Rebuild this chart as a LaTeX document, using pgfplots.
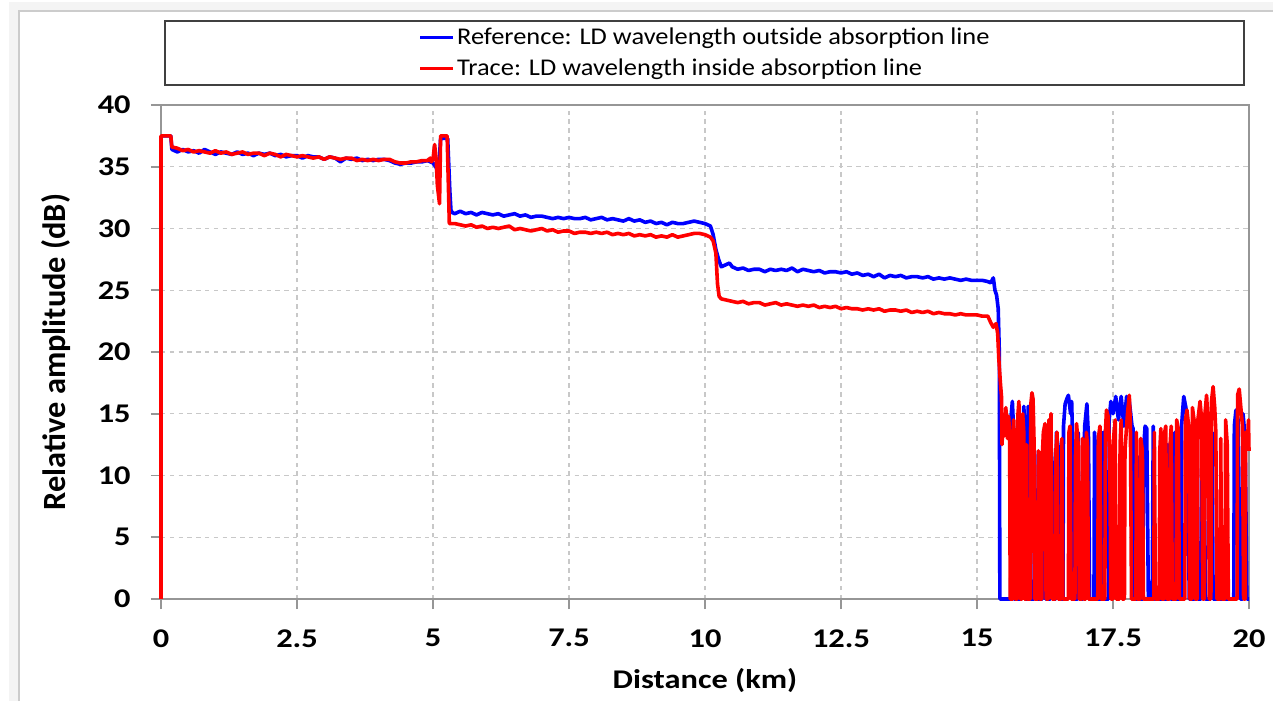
\documentclass[border=0pt]{standalone}
\usepackage{fontspec}
\setmainfont{Carlito}[FakeStretch=1.2]
\newfontfamily\legfont{Carlito}[FakeStretch=1.1]
\newfontfamily\ylabfont{Carlito}
\usepackage{pgfplots}
\pgfplotsset{compat=1.18}
\definecolor{bgband}{RGB}{244,244,244}
\definecolor{bgline}{RGB}{204,204,204}
\definecolor{gridc}{RGB}{200,200,200}
\definecolor{axc}{RGB}{150,150,150}
\definecolor{lblue}{RGB}{0,0,255}
\definecolor{lred}{RGB}{255,0,0}
\begin{document}
\begin{tikzpicture}
\path[use as bounding box] (0,0) rectangle (636.5pt,350.5pt);
\fill[bgband] (4.5pt,0) rectangle (636.5pt,349.5pt);
\fill[white] (9.5pt,0) rectangle (636.5pt,345pt);
\draw[bgline, line width=0.9pt] (9.5pt,0) -- (9.5pt,345pt) -- (636.5pt,345pt);
\begin{axis}[
  at={(80.5pt,51pt)}, anchor=south west,
  scale only axis, width=544pt, height=247pt,
  xmin=0, xmax=20, ymin=0, ymax=40,
  xtick={0,2.5,5,7.5,10,12.5,15,17.5,20},
  xticklabels={0,2.5,5,7.5,10,12.5,15,17.5,20},
  ytick={0,5,10,15,20,25,30,35,40},
  /pgf/number format/assume math mode=true,
  tick align=outside, major tick length=5pt,
  xtick pos=bottom, ytick pos=left,
  tick style={axc, line width=0.8pt},
  axis line style={axc, line width=0.9pt},
  grid=major,
  major grid style={gridc, line width=0.6pt, dash pattern=on 2.2pt off 2.2pt},
  ticklabel style={font=\bfseries\fontsize{13.5}{16}\selectfont, inner sep=0pt},
  xticklabel shift=10pt, yticklabel shift=10pt,
  xlabel={Distance (km)},
  ylabel={\ylabfont Relative amplitude (dB)},
  xlabel style={font=\bfseries\fontsize{13.5}{16}\selectfont, at={(axis description cs:0.5,-0.166)}, anchor=center},
  ylabel style={font=\bfseries\fontsize{16.2}{19}\selectfont, at={(axis description cs:-0.0965,0.5)}, anchor=center},
  clip=false,
  legend style={at={(axis description cs:0.5,1.105)}, anchor=center, draw=none, fill=none,
    font=\legfont\fontsize{12}{14}\selectfont, row sep=3.6pt, inner sep=0pt, nodes={inner sep=1pt}},
  legend cell align=left,
  legend image code/.code={\draw[#1, line width=1.8pt] (0pt,0pt) -- (16.5pt,0pt);},
]
\addplot[lblue, line width=1.8pt, line join=round] coordinates {
(0,37.5)(0.18,37.5)(0.2,36.4)(0.3,36.2)(0.4,36.4)(0.5,36.2)(0.6,36.3)(0.7,36.1)(0.8,36.4)(0.9,36.2)
(1.0,36.0)(1.1,36.2)(1.2,36.1)(1.3,36.0)(1.4,36.2)(1.5,36.0)(1.6,36.1)(1.7,35.9)(1.8,36.1)(1.9,36.0)
(2.0,36.1)(2.1,35.9)(2.2,36.0)(2.3,35.8)(2.4,35.9)(2.5,35.9)(2.6,35.7)(2.7,35.9)(2.8,35.8)(2.9,35.8)
(3.0,35.6)(3.1,35.8)(3.2,35.7)(3.3,35.4)(3.4,35.7)(3.5,35.6)(3.6,35.7)(3.7,35.5)(3.8,35.6)(3.9,35.5)
(4.0,35.6)(4.1,35.6)(4.2,35.5)(4.3,35.3)(4.4,35.2)(4.5,35.3)(4.6,35.3)(4.7,35.4)(4.8,35.4)(4.9,35.5)
(5.0,35.3)(5.05,35.0)(5.1,34.5)(5.14,37.3)(5.27,37.3)(5.31,33.0)(5.33,31.5)(5.35,31.3)
(5.4,31.2)(5.5,31.4)(5.6,31.2)(5.7,31.3)(5.8,31.1)(5.9,31.3)(6.0,31.2)(6.1,31.1)(6.2,31.2)(6.3,31.0)
(6.4,31.1)(6.5,31.2)(6.6,31.0)(6.7,31.1)(6.8,30.9)(6.9,31.0)(7.0,31.0)(7.1,30.9)(7.2,30.8)(7.3,30.9)
(7.4,30.8)(7.5,30.9)(7.6,30.8)(7.7,30.8)(7.8,30.9)(7.9,30.7)(8.0,30.8)(8.1,30.9)(8.2,30.7)(8.3,30.8)
(8.4,30.7)(8.5,30.6)(8.6,30.8)(8.7,30.6)(8.8,30.7)(8.9,30.5)(9.0,30.6)(9.1,30.4)(9.2,30.5)(9.3,30.3)
(9.4,30.5)(9.5,30.4)(9.6,30.4)(9.7,30.5)(9.8,30.6)(9.9,30.5)(10.0,30.4)(10.1,30.2)(10.15,29.5)(10.2,28.3)
(10.25,27.5)(10.3,26.9)(10.35,27.0)(10.4,27.1)(10.45,27.2)(10.5,26.9)(10.6,26.7)(10.7,26.8)(10.8,26.6)(10.9,26.7)
(11.0,26.7)(11.1,26.5)(11.2,26.7)(11.3,26.6)(11.4,26.7)(11.5,26.6)(11.6,26.8)(11.7,26.5)(11.8,26.7)(11.9,26.6)
(12.0,26.5)(12.1,26.6)(12.2,26.4)(12.3,26.5)(12.4,26.5)(12.5,26.4)(12.6,26.5)(12.7,26.3)(12.8,26.4)(12.9,26.2)
(13.0,26.3)(13.1,26.1)(13.2,26.3)(13.3,26.0)(13.4,26.2)(13.5,26.1)(13.6,26.2)(13.7,26.0)(13.8,26.1)(13.9,26.1)
(14.0,26.0)(14.1,26.1)(14.2,25.9)(14.3,26.0)(14.4,25.9)(14.5,26.0)(14.6,25.9)(14.7,25.8)(14.8,25.9)(14.9,25.8)
(15.0,25.8)(15.1,25.8)(15.2,25.7)(15.25,25.6)(15.3,26.0)(15.33,25.0)(15.36,24.6)(15.39,23.5)(15.41,20)(15.42,0)
(15.62,0)(15.63,15.0)(15.65,16.0)(15.67,14)(15.68,0)(15.72,0)(15.73,13)(15.74,0)(15.80,0)(15.81,14.5)
(15.84,12.5)(15.86,15.6)(15.88,13.8)(15.90,0)(15.93,0)(15.94,15.6)(15.96,14.0)(15.98,0)(16.05,0)(16.06,12.0)
(16.08,0)(16.20,0)(16.21,11.0)(16.24,13.0)(16.26,0)(16.35,0)(16.36,12.5)(16.38,11.0)(16.40,0)(16.45,0)
(16.46,13.5)(16.50,12.0)(16.52,0)(16.58,0)(16.59,14.0)(16.62,15.8)(16.65,16.2)(16.68,16.5)(16.72,15.0)(16.74,16.0)
(16.76,12.5)(16.78,0)(16.85,0)(16.86,13.5)(16.88,0)(16.95,0)(16.96,11.0)(16.98,14.0)(17.02,15.8)(17.05,13.0)
(17.07,0)(17.15,0)(17.16,13.5)(17.18,12)(17.20,0)(17.28,0)(17.29,13.2)(17.32,13.5)(17.34,0)(17.42,0)
(17.43,14.5)(17.46,16.0)(17.50,15.0)(17.55,16.4)(17.60,14.5)(17.65,16.4)(17.70,14.0)(17.75,16.4)(17.80,16.0)(17.85,14.0)
(17.87,13.8)(17.88,0)(17.95,0)(17.96,11.5)(17.98,0)(18.05,0)(18.06,12.0)(18.09,14.0)(18.12,13.8)(18.15,0)
(18.22,0)(18.24,14.0)(18.26,0)(18.50,0)(18.51,12.5)(18.54,11.8)(18.56,0)(18.63,0)(18.64,13.5)(18.66,0)
(18.75,0)(18.76,14.0)(18.80,16.4)(18.84,15.5)(18.88,13.5)(18.90,0)(19.00,0)(19.01,13.5)(19.04,12.0)(19.06,0)
(19.12,0)(19.13,14.0)(19.17,13.0)(19.20,0)(19.28,0)(19.29,12.5)(19.32,13.5)(19.34,0)(19.72,0)(19.73,14.0)
(19.76,15.3)(19.80,14.5)(19.84,0)(19.88,0)(19.89,15.0)(19.93,13.0)(19.96,0)(20,0)
};
\addlegendentry{Reference: LD wavelength outside absorption line}
\addplot[lred, line width=1.8pt, line join=round] coordinates {
(0,0)(0,37.5)(0.18,37.5)(0.2,36.6)(0.3,36.5)(0.4,36.3)(0.5,36.4)(0.6,36.2)(0.7,36.3)(0.8,36.2)(0.9,36.1)
(1.0,36.3)(1.1,36.1)(1.2,36.2)(1.3,36.0)(1.4,36.1)(1.5,36.2)(1.6,36.0)(1.7,36.1)(1.8,36.1)(1.9,35.9)
(2.0,36.1)(2.1,36.0)(2.2,35.8)(2.3,36.0)(2.4,35.9)(2.5,35.8)(2.6,35.9)(2.7,35.8)(2.8,35.7)(2.9,35.8)
(3.0,35.6)(3.1,35.8)(3.2,35.7)(3.3,35.6)(3.4,35.7)(3.5,35.7)(3.6,35.5)(3.7,35.6)(3.8,35.5)(3.9,35.6)
(4.0,35.5)(4.1,35.6)(4.2,35.6)(4.3,35.4)(4.4,35.3)(4.5,35.3)(4.6,35.4)(4.7,35.4)(4.8,35.5)(4.9,35.5)
(4.95,35.7)(4.97,35.4)(5.0,35.6)(5.03,36.8)(5.06,35.5)(5.08,33.5)(5.12,32.0)(5.14,37.5)(5.26,37.5)(5.3,30.4)
(5.4,30.4)(5.5,30.3)(5.6,30.2)(5.7,30.3)(5.8,30.1)(5.9,30.2)(6.0,30.0)(6.1,30.1)(6.2,30.0)(6.3,30.1)
(6.4,30.2)(6.5,29.9)(6.6,30.0)(6.7,29.9)(6.8,29.8)(6.9,29.9)(7.0,30.0)(7.1,29.8)(7.2,29.9)(7.3,29.7)
(7.4,29.8)(7.5,29.8)(7.6,29.6)(7.7,29.7)(7.8,29.7)(7.9,29.6)(8.0,29.7)(8.1,29.6)(8.2,29.7)(8.3,29.5)
(8.4,29.6)(8.5,29.5)(8.6,29.6)(8.7,29.4)(8.8,29.5)(8.9,29.4)(9.0,29.5)(9.1,29.3)(9.2,29.4)(9.3,29.3)
(9.4,29.5)(9.5,29.3)(9.6,29.4)(9.7,29.5)(9.8,29.6)(9.9,29.6)(10.0,29.5)(10.1,29.3)(10.15,29.0)(10.2,28.0)
(10.23,25.5)(10.26,24.5)(10.3,24.3)(10.4,24.2)(10.5,24.1)(10.6,24.0)(10.7,24.1)(10.8,23.9)(10.9,24.0)
(11.0,24.0)(11.1,23.8)(11.2,23.9)(11.3,24.0)(11.4,23.8)(11.5,23.9)(11.6,23.8)(11.7,23.7)(11.8,23.8)(11.9,23.7)
(12.0,23.8)(12.1,23.6)(12.2,23.7)(12.3,23.6)(12.4,23.7)(12.5,23.5)(12.6,23.6)(12.7,23.5)(12.8,23.5)(12.9,23.4)
(13.0,23.5)(13.1,23.4)(13.2,23.5)(13.3,23.3)(13.4,23.4)(13.5,23.4)(13.6,23.3)(13.7,23.4)(13.8,23.2)(13.9,23.3)
(14.0,23.2)(14.1,23.3)(14.2,23.1)(14.3,23.2)(14.4,23.1)(14.5,23.1)(14.6,23.0)(14.7,23.1)(14.8,23.0)(14.9,23.0)
(15.0,23.0)(15.1,22.9)(15.2,22.9)(15.25,22.4)(15.3,22.0)(15.35,22.3)(15.38,21.5)(15.4,19.5)(15.43,17.5)
(15.45,16.4)(15.46,12.5)(15.48,14.8)(15.50,13.2)(15.53,15.5)(15.56,13.0)(15.58,14.8)(15.60,13.5)(15.61,0)(15.66,0)
(15.67,14.5)(15.69,11.5)(15.70,0)(15.74,0)(15.75,14.8)(15.77,16.0)(15.79,11.0)(15.80,0)(15.83,0)(15.84,15.0)
(15.86,13.5)(15.87,0)(15.90,0)(15.91,12.5)(15.92,0)(15.98,0)(15.99,15.8)(16.01,16.7)(16.03,16.2)(16.05,12.5)
(16.06,0)(16.12,0)(16.13,12.0)(16.15,0)(16.19,0)(16.20,11.5)(16.22,13.5)(16.25,14.2)(16.27,0)(16.31,0)
(16.32,14.5)(16.34,13.0)(16.36,15.0)(16.38,0)(16.44,0)(16.45,12.0)(16.47,13.5)(16.49,0)(16.55,0)(16.56,13.0)
(16.58,0)(16.68,0)(16.69,13.5)(16.71,14.0)(16.73,0)(16.80,0)(16.81,11.5)(16.83,14.2)(16.86,12.5)(16.88,0)
(16.93,0)(16.94,13.0)(16.96,0)(17.00,0)(17.01,13.5)(17.03,12.5)(17.05,0)(17.22,0)(17.23,13.0)(17.26,14.0)
(17.28,0)(17.35,0)(17.36,13.5)(17.38,15.3)(17.41,14.8)(17.44,12.0)(17.46,0)(17.50,0)(17.51,13.0)(17.54,14.5)
(17.56,0)(17.62,0)(17.63,12.5)(17.65,14.5)(17.67,0)(17.71,0)(17.72,12.0)(17.75,14.0)(17.77,15.2)(17.80,16.5)
(17.82,14.0)(17.84,0)(17.92,0)(17.93,13.5)(17.95,0)(18.00,0)(18.01,13.0)(18.04,12.0)(18.06,0)(18.25,0)
(18.26,13.5)(18.28,0)(18.35,0)(18.36,12.0)(18.38,13.8)(18.40,0)(18.44,0)(18.45,13.5)(18.47,14.0)(18.49,0)
(18.54,0)(18.55,12.5)(18.57,14.0)(18.59,0)(18.66,0)(18.67,14.5)(18.70,13.8)(18.72,0)(18.82,0)(18.83,14.5)
(18.86,15.3)(18.89,14.0)(18.91,0)(18.95,0)(18.96,15.5)(18.99,14.5)(19.01,0)(19.05,0)(19.06,14.5)(19.10,16.0)
(19.13,14.5)(19.15,0)(19.18,0)(19.19,15.0)(19.22,16.5)(19.25,14.0)(19.27,0)(19.30,0)(19.31,16.0)(19.34,17.2)
(19.37,15.5)(19.39,13.5)(19.41,0)(19.47,0)(19.48,13.0)(19.50,0)(19.56,0)(19.57,14.5)(19.60,12.5)(19.62,0)
(19.78,0)(19.79,16.5)(19.82,17.0)(19.85,15.5)(19.88,14.0)(19.90,0)(19.93,0)(19.94,13.5)(19.97,12.5)(19.99,14.5)
(20.0,12.0)
};
\addlegendentry{Trace: LD wavelength inside absorption line}
\end{axis}
\draw[black!75, line width=1pt] (82.5pt,308pt) rectangle (622pt,340pt);
\end{tikzpicture}
\end{document}
